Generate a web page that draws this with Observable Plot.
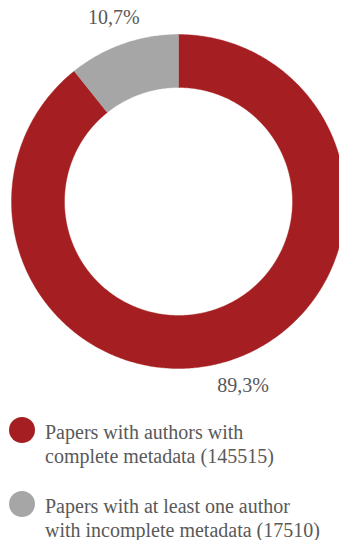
<!DOCTYPE html>
<html><head><meta charset="utf-8">
<script src="https://cdn.jsdelivr.net/npm/d3@7"></script>
<script src="https://cdn.jsdelivr.net/npm/@observablehq/plot@0.6"></script>
<style>
body{margin:0;background:#fff;font-family:"Liberation Serif","Times New Roman",serif;color:#595959;width:339px;overflow:hidden}
#legend{padding-top:20px}
.item{display:flex;align-items:flex-start;font-size:20px;line-height:24px;margin-bottom:26px;white-space:nowrap}
.sw{width:26px;height:26px;border-radius:50%;flex:none;margin:-3px 10px 0 9px}
</style></head><body><div id="chart"></div><div id="legend"></div>
<script>
const categoryFirstLine = ["Papers with authors with", "Papers with at least one author"];
const categorySecondLine = ["complete metadata", "with incomplete metadata"];
const counts = [145515, 17510];
const percentLabels = ["89,3%", "10,7%"];
const colors = ["#a51f22", "#a6a6a6"];

const W = 339, H = 400, cx = 178, cy = 201, R = 167, innerRatio = 114 / 167;
const serif = '"Liberation Serif","Times New Roman",serif';

const pie = d3.pie().sort(null)(counts);
const polys = [];
pie.forEach((s, i) => {
  const n = Math.max(2, Math.ceil((s.endAngle - s.startAngle) / 0.01));
  const pts = [];
  for (let k = 0; k <= n; k++) {
    const a = s.startAngle + (s.endAngle - s.startAngle) * k / n;
    pts.push({x: Math.sin(a), y: -Math.cos(a)});
  }
  for (let k = n; k >= 0; k--) {
    const a = s.startAngle + (s.endAngle - s.startAngle) * k / n;
    pts.push({x: innerRatio * Math.sin(a), y: -innerRatio * Math.cos(a)});
  }
  pts.push(pts[0]);
  pts.forEach(p => polys.push({...p, key: i, color: colors[i]}));
});
const labelR = 1.17;
const labels = pie.map((s, i) => {
  const a = (s.startAngle + s.endAngle) / 2;
  return {x: labelR * Math.sin(a), y: -labelR * Math.cos(a), text: percentLabels[i]};
});

const chart = Plot.plot({
  width: W, height: H,
  margin: 0,
  x: {domain: [-cx / R, (W - cx) / R], range: [0, W], axis: null},
  y: {domain: [-cy / R, (H - cy) / R], range: [0, H], axis: null},
  style: {background: "transparent", fontFamily: serif},
  marks: [
    Plot.line(polys, {x: "x", y: "y", z: "key", fill: "color", stroke: "color", strokeWidth: 0.4}),
    Plot.text(labels, {x: "x", y: "y", text: "text", fontSize: 20, fill: "#595959", fontFamily: serif})
  ]
});
document.getElementById("chart").appendChild(chart);

const legend = document.getElementById("legend");
counts.forEach((c, i) => {
  const item = document.createElement("div");
  item.className = "item";
  const sw = document.createElement("div");
  sw.className = "sw";
  sw.style.background = colors[i];
  const txt = document.createElement("div");
  txt.innerHTML = categoryFirstLine[i] + "<br>" + categorySecondLine[i] + " (" + c + ")";
  item.appendChild(sw); item.appendChild(txt);
  legend.appendChild(item);
});
</script></body></html>
